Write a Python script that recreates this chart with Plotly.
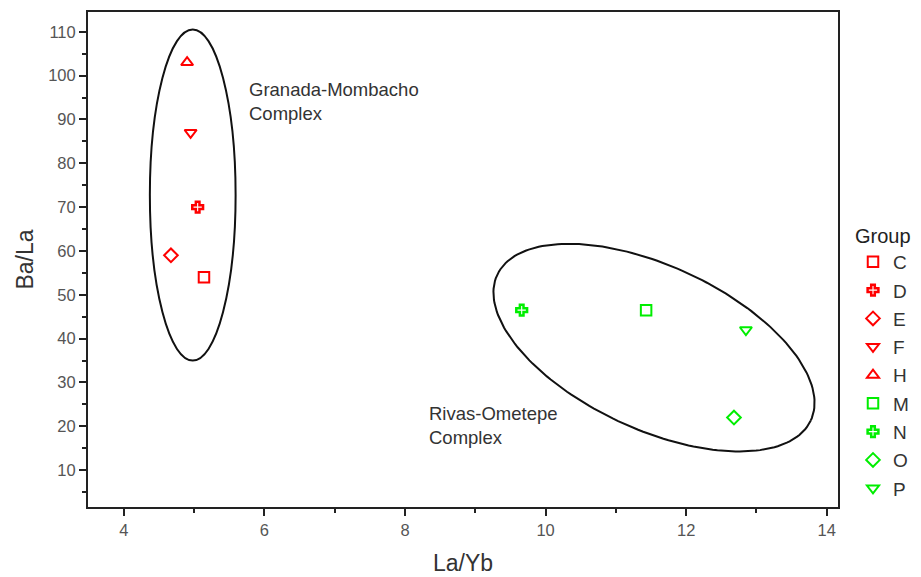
import numpy as np
import plotly.graph_objects as go

groups = ["C", "D", "E", "F", "H", "M", "N", "O", "P"]
la_yb = [5.14, 5.05, 4.67, 4.95, 4.90, 11.43, 9.66, 12.68, 12.85]
ba_la = [54, 70, 59, 87, 103, 46.5, 46.5, 22, 42]
colors = ["#ff0000"] * 5 + ["#00ee00"] * 4
symbols = ["square-open", "cross-open", "diamond-open", "triangle-down-open", "triangle-up-open",
           "square-open", "cross-open", "diamond-open", "triangle-down-open"]

x_ticks = [4, 6, 8, 10, 12, 14]
y_ticks = [10, 20, 30, 40, 50, 60, 70, 80, 90, 100, 110]
X_RANGE = [3.49, 14.16]
Y_RANGE = [1.6, 114.5]

W, H = 921, 577
ML, MR, MT, MB = 80, 91, 2, 78
PW, PH = W - ML - MR, H - MT - MB
SX0, SY0 = 88, 10  # on-screen position of plot area (page has 8px body margin)

def px_to_data(px, py):
    x = X_RANGE[0] + (px - SX0) / PW * (X_RANGE[1] - X_RANGE[0])
    y = Y_RANGE[1] - (py - SY0) / PH * (Y_RANGE[1] - Y_RANGE[0])
    return x, y

fig = go.Figure()
for g, x, y, c, s in zip(groups, la_yb, ba_la, colors, symbols):
    fig.add_trace(go.Scatter(x=[x], y=[y], mode="markers", name=g, legendgroup=g,
                             marker=dict(symbol=s, color=c, size=10.5 if "cross" not in s else 9,
                                         line=dict(color=c, width=2 if "cross" not in s else 2.5))))

# Rivas-Ometepe ellipse (rotated, defined in screen pixel space)
t = np.linspace(0, 2 * np.pi, 200)
cx, cy, a, b, th = 654, 347, 173, 82, np.deg2rad(25)
px = cx + a * np.cos(t) * np.cos(th) - b * np.sin(t) * np.sin(th)
py = cy + a * np.cos(t) * np.sin(th) + b * np.sin(t) * np.cos(th)
ex, ey = px_to_data(px, py)
fig.add_trace(go.Scatter(x=ex, y=ey, mode="lines", line=dict(color="#111", width=2),
                         showlegend=False, hoverinfo="skip"))

# Granada-Mombacho ellipse
fig.add_shape(type="circle", xref="x", yref="y", x0=4.37, x1=5.59, y0=35, y1=110.5,
              line=dict(color="#111", width=2))

fig.add_annotation(x=5.75, y=94.2, xref="x", yref="y", text="Granada-Mombacho<br>Complex",
                   showarrow=False, xanchor="left", yanchor="middle", align="left",
                   font=dict(family="Arial", size=18.5, color="#333"))
fig.add_annotation(x=8.31, y=20.2, xref="x", yref="y", text="Rivas-Ometepe<br>Complex",
                   showarrow=False, xanchor="left", yanchor="middle", align="left",
                   font=dict(family="Arial", size=18.5, color="#333"))

fig.update_layout(
    width=W, height=H,
    margin=dict(l=ML, r=MR, t=MT, b=MB),
    paper_bgcolor="white", plot_bgcolor="white",
    font=dict(family="Arial", color="#333"),
    legend=dict(title=dict(text="Group", font=dict(size=20, color="#222")),
                x=1.02, xanchor="left", y=0.292, yanchor="middle",
                font=dict(size=19, color="#333"), itemwidth=30, tracegroupgap=0.6,
                bgcolor="rgba(0,0,0,0)"),
    xaxis=dict(range=X_RANGE, tickvals=x_ticks, showgrid=False, zeroline=False,
               showline=True, linecolor="#222", linewidth=2, mirror=True,
               ticks="outside", ticklen=7, tickcolor="#222", tickwidth=1.5,
               minor=dict(dtick=1, tick0=5, ticks="outside", ticklen=4, tickcolor="#222", showgrid=False),
               tickfont=dict(size=16.5, color="#555"),
               title=dict(text="La/Yb", font=dict(size=23, color="#333"), standoff=17)),
    yaxis=dict(range=Y_RANGE, tickvals=y_ticks, showgrid=False, zeroline=False,
               showline=True, linecolor="#222", linewidth=2, mirror=True,
               ticks="outside", ticklen=7, tickcolor="#222", tickwidth=1.5,
               minor=dict(dtick=10, tick0=5, ticks="outside", ticklen=4, tickcolor="#222", showgrid=False),
               tickfont=dict(size=16.5, color="#555"),
               title=dict(text="Ba/La", font=dict(size=23, color="#333"), standoff=8)),
)

fig.write_html("out.html")
